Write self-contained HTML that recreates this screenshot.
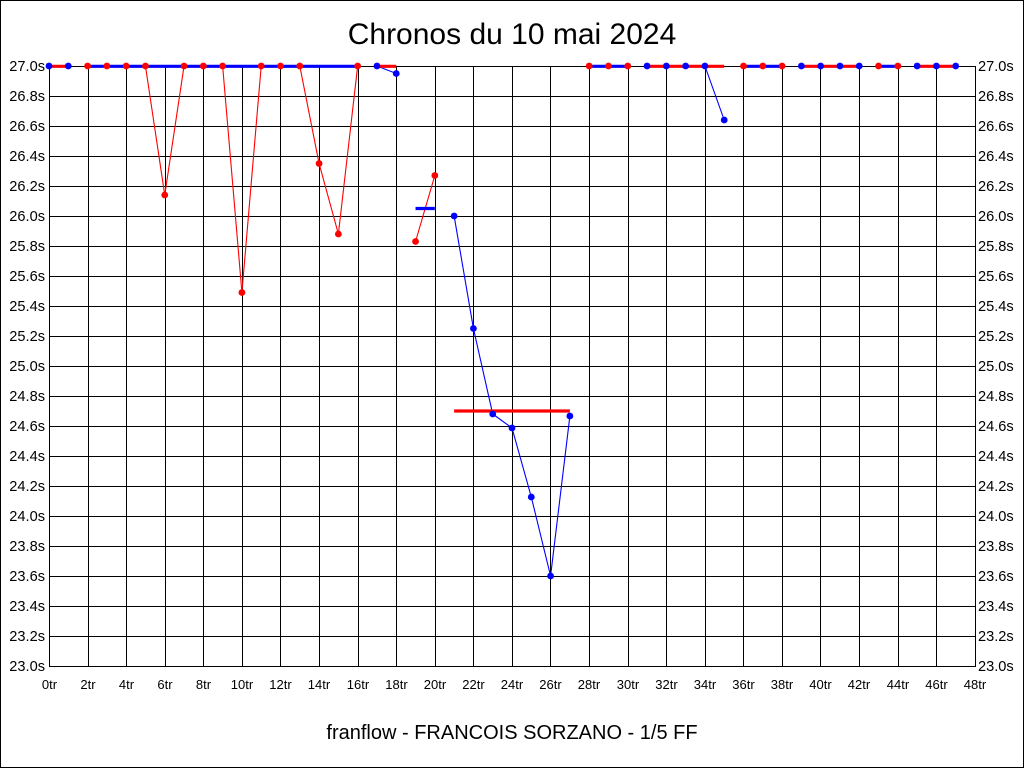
<!DOCTYPE html>
<html><head><meta charset="utf-8"><style>
html,body{margin:0;padding:0;background:#fff;}
svg{display:block;}
text{font-family:"Liberation Sans",Arial,sans-serif;fill:#000;}
</style></head><body>
<svg width="1024" height="768" viewBox="0 0 1024 768" xmlns="http://www.w3.org/2000/svg">
<rect x="0" y="0" width="1024" height="768" fill="#fff"/>
<rect x="0.5" y="0.5" width="1023" height="767" fill="none" stroke="#000" stroke-width="1"/>
<text x="512" y="44" font-size="30" text-anchor="middle">Chronos du 10 mai 2024</text>
<text x="512" y="739" font-size="20" text-anchor="middle">franflow - FRANCOIS SORZANO - 1/5 FF</text>

<g stroke="#000" stroke-width="1" shape-rendering="crispEdges">
<line x1="49" y1="66.5" x2="976" y2="66.5"/>
<line x1="49" y1="96.5" x2="976" y2="96.5"/>
<line x1="49" y1="126.5" x2="976" y2="126.5"/>
<line x1="49" y1="156.5" x2="976" y2="156.5"/>
<line x1="49" y1="186.5" x2="976" y2="186.5"/>
<line x1="49" y1="216.5" x2="976" y2="216.5"/>
<line x1="49" y1="246.5" x2="976" y2="246.5"/>
<line x1="49" y1="276.5" x2="976" y2="276.5"/>
<line x1="49" y1="306.5" x2="976" y2="306.5"/>
<line x1="49" y1="336.5" x2="976" y2="336.5"/>
<line x1="49" y1="366.5" x2="976" y2="366.5"/>
<line x1="49" y1="396.5" x2="976" y2="396.5"/>
<line x1="49" y1="426.5" x2="976" y2="426.5"/>
<line x1="49" y1="456.5" x2="976" y2="456.5"/>
<line x1="49" y1="486.5" x2="976" y2="486.5"/>
<line x1="49" y1="516.5" x2="976" y2="516.5"/>
<line x1="49" y1="546.5" x2="976" y2="546.5"/>
<line x1="49" y1="576.5" x2="976" y2="576.5"/>
<line x1="49" y1="606.5" x2="976" y2="606.5"/>
<line x1="49" y1="636.5" x2="976" y2="636.5"/>
<line x1="49" y1="666.5" x2="976" y2="666.5"/>

<line x1="49.5" y1="66" x2="49.5" y2="667"/>
<line x1="88.5" y1="66" x2="88.5" y2="667"/>
<line x1="126.5" y1="66" x2="126.5" y2="667"/>
<line x1="165.5" y1="66" x2="165.5" y2="667"/>
<line x1="203.5" y1="66" x2="203.5" y2="667"/>
<line x1="242.5" y1="66" x2="242.5" y2="667"/>
<line x1="280.5" y1="66" x2="280.5" y2="667"/>
<line x1="319.5" y1="66" x2="319.5" y2="667"/>
<line x1="358.5" y1="66" x2="358.5" y2="667"/>
<line x1="396.5" y1="66" x2="396.5" y2="667"/>
<line x1="435.5" y1="66" x2="435.5" y2="667"/>
<line x1="473.5" y1="66" x2="473.5" y2="667"/>
<line x1="512.5" y1="66" x2="512.5" y2="667"/>
<line x1="550.5" y1="66" x2="550.5" y2="667"/>
<line x1="589.5" y1="66" x2="589.5" y2="667"/>
<line x1="628.5" y1="66" x2="628.5" y2="667"/>
<line x1="666.5" y1="66" x2="666.5" y2="667"/>
<line x1="705.5" y1="66" x2="705.5" y2="667"/>
<line x1="743.5" y1="66" x2="743.5" y2="667"/>
<line x1="782.5" y1="66" x2="782.5" y2="667"/>
<line x1="820.5" y1="66" x2="820.5" y2="667"/>
<line x1="859.5" y1="66" x2="859.5" y2="667"/>
<line x1="898.5" y1="66" x2="898.5" y2="667"/>
<line x1="936.5" y1="66" x2="936.5" y2="667"/>
<line x1="975.5" y1="66" x2="975.5" y2="667"/>
</g>

<g font-size="14.6" text-anchor="end">
<text x="45" y="71">27.0s</text>
<text x="45" y="101">26.8s</text>
<text x="45" y="131">26.6s</text>
<text x="45" y="161">26.4s</text>
<text x="45" y="191">26.2s</text>
<text x="45" y="221">26.0s</text>
<text x="45" y="251">25.8s</text>
<text x="45" y="281">25.6s</text>
<text x="45" y="311">25.4s</text>
<text x="45" y="341">25.2s</text>
<text x="45" y="371">25.0s</text>
<text x="45" y="401">24.8s</text>
<text x="45" y="431">24.6s</text>
<text x="45" y="461">24.4s</text>
<text x="45" y="491">24.2s</text>
<text x="45" y="521">24.0s</text>
<text x="45" y="551">23.8s</text>
<text x="45" y="581">23.6s</text>
<text x="45" y="611">23.4s</text>
<text x="45" y="641">23.2s</text>
<text x="45" y="671">23.0s</text>
</g>
<g font-size="14.6" text-anchor="start">
<text x="978" y="71">27.0s</text>
<text x="978" y="101">26.8s</text>
<text x="978" y="131">26.6s</text>
<text x="978" y="161">26.4s</text>
<text x="978" y="191">26.2s</text>
<text x="978" y="221">26.0s</text>
<text x="978" y="251">25.8s</text>
<text x="978" y="281">25.6s</text>
<text x="978" y="311">25.4s</text>
<text x="978" y="341">25.2s</text>
<text x="978" y="371">25.0s</text>
<text x="978" y="401">24.8s</text>
<text x="978" y="431">24.6s</text>
<text x="978" y="461">24.4s</text>
<text x="978" y="491">24.2s</text>
<text x="978" y="521">24.0s</text>
<text x="978" y="551">23.8s</text>
<text x="978" y="581">23.6s</text>
<text x="978" y="611">23.4s</text>
<text x="978" y="641">23.2s</text>
<text x="978" y="671">23.0s</text>
</g>
<g font-size="13" text-anchor="middle">
<text x="49.5" y="689">0tr</text>
<text x="88" y="689">2tr</text>
<text x="126.5" y="689">4tr</text>
<text x="165" y="689">6tr</text>
<text x="203.5" y="689">8tr</text>
<text x="242" y="689">10tr</text>
<text x="280.5" y="689">12tr</text>
<text x="319" y="689">14tr</text>
<text x="358" y="689">16tr</text>
<text x="396.5" y="689">18tr</text>
<text x="435" y="689">20tr</text>
<text x="473.5" y="689">22tr</text>
<text x="512" y="689">24tr</text>
<text x="550.5" y="689">26tr</text>
<text x="589" y="689">28tr</text>
<text x="628" y="689">30tr</text>
<text x="666.5" y="689">32tr</text>
<text x="705" y="689">34tr</text>
<text x="743.5" y="689">36tr</text>
<text x="782" y="689">38tr</text>
<text x="820.5" y="689">40tr</text>
<text x="859" y="689">42tr</text>
<text x="898" y="689">44tr</text>
<text x="936.5" y="689">46tr</text>
<text x="975" y="689">48tr</text>
</g>

<!-- thin lines -->
<g fill="none" stroke-width="1.1">
<polyline stroke="#0000ff" points="49,66 68.29,66"/>
<polyline stroke="#ff0000" points="87.58,66 106.88,66 126.17,66 145.46,66 164.75,195 184.04,66 203.33,66 222.63,66 241.92,292.5 261.21,66 280.5,66 299.79,66 319.08,163.5 338.38,234 357.67,66"/>
<polyline stroke="#0000ff" points="376.96,66 396.25,73.5"/>
<polyline stroke="#ff0000" points="415.54,241.5 434.83,175.5"/>
<polyline stroke="#0000ff" points="454.13,216 473.42,328.5 492.71,414 512,428 531.29,497 550.58,576 569.88,416"/>
<polyline stroke="#ff0000" points="589.17,66 627.75,66"/>
<polyline stroke="#0000ff" points="647.04,66 704.92,66 724.21,120"/>
<polyline stroke="#ff0000" points="743.5,66 782.08,66"/>
<polyline stroke="#0000ff" points="801.38,66 859.25,66"/>
<polyline stroke="#ff0000" points="878.54,66 897.83,66"/>
<polyline stroke="#0000ff" points="917.13,66 955.71,66"/>
</g>

<!-- thick average lines -->
<g stroke-width="3.2" fill="none">
<line stroke="#ff0000" x1="49" y1="66.3" x2="68.29" y2="66.3"/>
<line stroke="#0000ff" x1="87.58" y1="66.3" x2="357.67" y2="66.3"/>
<line stroke="#ff0000" x1="376.96" y1="66.3" x2="396.25" y2="66.3"/>
<line stroke="#0000ff" x1="415.54" y1="208.5" x2="434.83" y2="208.5"/>
<line stroke="#ff0000" x1="454.13" y1="411" x2="569.88" y2="411"/>
<line stroke="#0000ff" x1="589.17" y1="66.3" x2="627.75" y2="66.3"/>
<line stroke="#ff0000" x1="647.04" y1="66.3" x2="724.21" y2="66.3"/>
<line stroke="#0000ff" x1="743.5" y1="66.3" x2="782.08" y2="66.3"/>
<line stroke="#ff0000" x1="801.38" y1="66.3" x2="859.25" y2="66.3"/>
<line stroke="#0000ff" x1="878.54" y1="66.3" x2="897.83" y2="66.3"/>
<line stroke="#ff0000" x1="917.13" y1="66.3" x2="955.71" y2="66.3"/>
</g>

<!-- dots -->
<g fill="#0000ff">
<circle cx="49" cy="66" r="3.4"/><circle cx="68.29" cy="66" r="3.4"/>
<circle cx="376.96" cy="66" r="3.4"/><circle cx="396.25" cy="73.5" r="3.4"/>
<circle cx="454.13" cy="216" r="3.4"/><circle cx="473.42" cy="328.5" r="3.4"/><circle cx="492.71" cy="414" r="3.4"/><circle cx="512" cy="428" r="3.4"/><circle cx="531.29" cy="497" r="3.4"/><circle cx="550.58" cy="576" r="3.4"/><circle cx="569.88" cy="416" r="3.4"/>
<circle cx="647.04" cy="66" r="3.4"/><circle cx="666.33" cy="66" r="3.4"/><circle cx="685.63" cy="66" r="3.4"/><circle cx="704.92" cy="66" r="3.4"/><circle cx="724.21" cy="120" r="3.4"/>
<circle cx="801.38" cy="66" r="3.4"/><circle cx="820.67" cy="66" r="3.4"/><circle cx="839.96" cy="66" r="3.4"/><circle cx="859.25" cy="66" r="3.4"/>
<circle cx="917.13" cy="66" r="3.4"/><circle cx="936.42" cy="66" r="3.4"/><circle cx="955.71" cy="66" r="3.4"/>
</g>
<g fill="#ff0000">
<circle cx="87.58" cy="66" r="3.4"/><circle cx="106.88" cy="66" r="3.4"/><circle cx="126.17" cy="66" r="3.4"/><circle cx="145.46" cy="66" r="3.4"/><circle cx="164.75" cy="195" r="3.4"/><circle cx="184.04" cy="66" r="3.4"/><circle cx="203.33" cy="66" r="3.4"/><circle cx="222.63" cy="66" r="3.4"/><circle cx="241.92" cy="292.5" r="3.4"/><circle cx="261.21" cy="66" r="3.4"/><circle cx="280.5" cy="66" r="3.4"/><circle cx="299.79" cy="66" r="3.4"/><circle cx="319.08" cy="163.5" r="3.4"/><circle cx="338.38" cy="234" r="3.4"/><circle cx="357.67" cy="66" r="3.4"/>
<circle cx="415.54" cy="241.5" r="3.4"/><circle cx="434.83" cy="175.5" r="3.4"/>
<circle cx="589.17" cy="66" r="3.4"/><circle cx="608.46" cy="66" r="3.4"/><circle cx="627.75" cy="66" r="3.4"/>
<circle cx="743.5" cy="66" r="3.4"/><circle cx="762.79" cy="66" r="3.4"/><circle cx="782.08" cy="66" r="3.4"/>
<circle cx="878.54" cy="66" r="3.4"/><circle cx="897.83" cy="66" r="3.4"/>
</g>
</svg>
</body></html>
